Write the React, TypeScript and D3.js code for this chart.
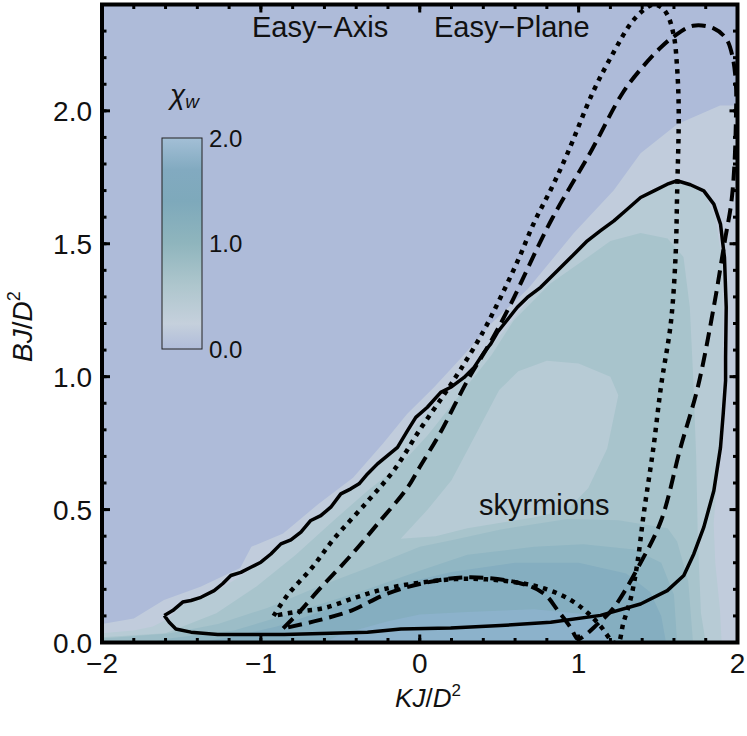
import React from 'react';
import * as d3 from 'd3';

// ---------- axes / labels ----------
const kTicks = [-2, -1, 0, 1, 2];
const kTickLabels = ['\u22122', '\u22121', '0', '1', '2'];
const bTicks = [0, 0.5, 1.0, 1.5, 2.0];
const bTickLabels = ['0.0', '0.5', '1.0', '1.5', '2.0'];
const cbTicks = [0, 1, 2];
const cbTickLabels = ['0.0', '1.0', '2.0'];
const annotations = ['Easy\u2212Axis', 'Easy\u2212Plane', 'skyrmions'];

// ---------- filled contour bands of chi_w (K, B) ----------
const bandColors = ['#c1ccdc', '#b7cbd5', '#a8c4cc', '#b7cbd5', '#9cbdc7', '#90b6c3', '#85aec0', '#8cb2cb'];
const band1 = [[-2, 0], [-2, 0.07], [-1.8, 0.09], [-1.61, 0.16], [-1.38, 0.21], [-1.13, 0.28], [-1.06, 0.36], [-0.86, 0.41], [-0.64, 0.52], [-0.42, 0.62], [-0.23, 0.75], [-0.08, 0.86], [0.09, 0.96], [0.26, 1.07], [0.45, 1.2], [0.68, 1.33], [0.97, 1.54], [1.22, 1.70], [1.39, 1.84], [1.62, 1.95], [1.89, 2.02], [2, 2.02], [2, 0]];
const band2 = [[-2, 0], [-2, 0.035], [-1.8, 0.045], [-1.68, 0.06], [-1.58, 0.09], [-1.5, 0.14], [-1.3, 0.185], [-1.1, 0.26], [-0.9, 0.35], [-0.7, 0.45], [-0.5, 0.55], [-0.3, 0.64], [-0.1, 0.77], [0.1, 0.9], [0.3, 1.0], [0.5, 1.15], [0.7, 1.3], [0.9, 1.42], [1.1, 1.53], [1.3, 1.62], [1.45, 1.69], [1.6, 1.73], [1.72, 1.715], [1.8, 1.68], [1.86, 1.6], [1.9, 1.45], [1.91, 1.2], [1.9, 0.9], [1.87, 0.6], [1.85, 0.45], [1.86, 0.3], [1.89, 0.12], [1.9, 0]];
const band3 = [[-2, 0], [-2, 0.02], [-1.6, 0.035], [-1.28, 0.11], [-1.03, 0.21], [-0.78, 0.33], [-0.54, 0.46], [-0.33, 0.57], [-0.12, 0.67], [0.05, 0.78], [0.25, 0.93], [0.45, 1.08], [0.59, 1.21], [0.82, 1.35], [1.06, 1.45], [1.2, 1.51], [1.39, 1.54], [1.56, 1.52], [1.66, 1.45], [1.70, 1.26], [1.72, 1.01], [1.74, 0.7], [1.75, 0.4], [1.77, 0.11], [1.8, 0]];
const band3Hole = [[-0.12, 0.39], [0.05, 0.5], [0.2, 0.61], [0.35, 0.78], [0.5, 0.95], [0.62, 1.02], [0.8, 1.06], [1.0, 1.05], [1.2, 1.0], [1.25, 0.93], [1.18, 0.73], [1.06, 0.58], [0.93, 0.5], [0.72, 0.47], [0.5, 0.45], [0.3, 0.43], [0.1, 0.4]];
const band4 = [[-2, 0], [-2, 0.015], [-1.58, 0.034], [-1.27, 0.07], [-0.96, 0.13], [-0.64, 0.21], [-0.33, 0.28], [0, 0.36], [0.2, 0.385], [0.51, 0.425], [0.93, 0.465], [1.25, 0.46], [1.56, 0.43], [1.62, 0.38], [1.69, 0.23], [1.72, 0]];
const band5 = [[-1.7, 0], [-1.58, 0.015], [-1.17, 0.045], [-0.75, 0.12], [-0.33, 0.2], [0, 0.27], [0.3, 0.33], [0.72, 0.36], [1.03, 0.37], [1.35, 0.35], [1.52, 0.3], [1.6, 0.18], [1.62, 0]];
const band6 = [[-1.4, 0], [-1.2, 0.02], [-0.9, 0.06], [-0.6, 0.12], [-0.3, 0.18], [-0.12, 0.22], [0.2, 0.265], [0.6, 0.3], [1.0, 0.3], [1.3, 0.26], [1.45, 0.19], [1.52, 0.1], [1.55, 0]];
const band7 = [[-0.6, 0], [-0.5, 0.03], [-0.2, 0.08], [0, 0.105], [0.3, 0.115], [0.72, 0.125], [1.06, 0.105], [1.18, 0.035], [1.2, 0]];

// ---------- phase boundaries (K, B) ----------
const solidCurve = [[-1.608, 0.1015], [-1.555, 0.120], [-1.492, 0.152], [-1.440, 0.158], [-1.377, 0.170], [-1.294, 0.195], [-1.241, 0.221], [-1.189, 0.252], [-1.126, 0.264], [-1.063, 0.283], [-1.0, 0.302], [-0.937, 0.333], [-0.874, 0.371], [-0.811, 0.386], [-0.748, 0.415], [-0.686, 0.459], [-0.623, 0.477], [-0.560, 0.509], [-0.497, 0.559], [-0.434, 0.578], [-0.382, 0.597], [-0.329, 0.634], [-0.266, 0.672], [-0.203, 0.703], [-0.140, 0.734], [-0.077, 0.797], [-0.025, 0.847], [0.048, 0.885], [0.132, 0.941], [0.195, 0.96], [0.279, 0.997], [0.342, 1.035], [0.404, 1.091], [0.447, 1.123], [0.489, 1.167], [0.614, 1.261], [0.677, 1.298], [0.761, 1.336], [0.866, 1.398], [0.950, 1.448], [1.055, 1.511], [1.138, 1.549], [1.222, 1.586], [1.306, 1.630], [1.390, 1.674], [1.474, 1.699], [1.558, 1.724], [1.620, 1.737], [1.704, 1.722], [1.788, 1.699], [1.851, 1.649], [1.893, 1.574], [1.918, 1.448], [1.929, 1.261], [1.925, 1.073], [1.925, 0.985], [1.910, 0.860], [1.893, 0.734], [1.851, 0.571], [1.788, 0.434], [1.725, 0.333], [1.662, 0.252], [1.558, 0.195], [1.390, 0.145], [1.138, 0.102], [0.824, 0.076], [0.509, 0.064], [0.195, 0.055], [-0.119, 0.051], [-0.329, 0.039], [-0.853, 0.030], [-1.272, 0.030], [-1.440, 0.039], [-1.535, 0.051], [-1.577, 0.076], [-1.608, 0.1015]];
const dottedCurve = [[-0.92, 0.10], [-0.83, 0.18], [-0.68, 0.28], [-0.54, 0.39], [-0.33, 0.53], [-0.16, 0.65], [0.0, 0.80], [0.15, 0.93], [0.26, 1.03], [0.40, 1.17], [0.51, 1.30], [0.62, 1.44], [0.72, 1.58], [0.83, 1.71], [0.93, 1.84], [1.09, 2.07], [1.22, 2.22], [1.33, 2.33], [1.41, 2.38], [1.47, 2.40], [1.52, 2.39], [1.56, 2.36], [1.60, 2.28], [1.62, 2.16], [1.63, 2.0], [1.62, 1.69], [1.61, 1.45], [1.58, 1.20], [1.52, 0.97], [1.47, 0.73], [1.41, 0.485], [1.37, 0.30], [1.33, 0.17], [1.28, 0.07], [1.25, 0.0], [1.22, 0.0], [1.14, 0.06], [1.06, 0.11], [0.95, 0.16], [0.8, 0.20], [0.62, 0.225], [0.3, 0.24], [0.0, 0.225], [-0.23, 0.20], [-0.40, 0.17], [-0.60, 0.13], [-0.78, 0.115], [-0.92, 0.10]];
const dashedCurve = [[-0.86, 0.053], [-0.75, 0.12], [-0.64, 0.195], [-0.43, 0.33], [-0.26, 0.45], [-0.08, 0.58], [0.0, 0.66], [0.13, 0.79], [0.30, 0.985], [0.45, 1.135], [0.57, 1.27], [0.82, 1.58], [1.08, 1.85], [1.28, 2.07], [1.41, 2.17], [1.52, 2.24], [1.60, 2.28], [1.72, 2.32], [1.85, 2.31], [1.93, 2.27], [1.97, 2.20], [1.99, 2.10], [1.99, 1.97], [1.98, 1.79], [1.96, 1.65], [1.92, 1.51], [1.85, 1.26], [1.75, 0.96], [1.64, 0.73], [1.52, 0.46], [1.39, 0.30], [1.22, 0.13], [1.12, 0.07], [1.01, 0.015], [0.99, 0.015], [0.95, 0.056], [0.87, 0.12], [0.78, 0.185], [0.62, 0.225], [0.30, 0.245], [0.0, 0.22], [-0.22, 0.18], [-0.43, 0.12], [-0.64, 0.083], [-0.86, 0.053]];

// ---------- colour bar ----------
const cbStops = [
  [0, '#a3bfd6'], [0.15, '#82aac0'], [0.3, '#7ea9bb'], [0.5, '#8fb5bd'],
  [0.7, '#aec6cd'], [0.88, '#c5d0dc'], [1, '#b0bcda'],
];

const W = 747, H = 736;
const L = 102, R = 737.5, T = 4.5, B = 642.5;
const FONT = '"Liberation Sans", Arial, Helvetica, sans-serif';

export default function App() {
  const x = d3.scaleLinear().domain([-2, 2]).range([L, R]);
  const y = d3.scaleLinear().domain([0, 2.4]).range([B, T]);
  const poly = d3.line<number[]>().x(d => x(d[0])).y(d => y(d[1]));
  const smooth = d3.line<number[]>().x(d => x(d[0])).y(d => y(d[1])).curve(d3.curveCatmullRom.alpha(0.5));
  const bands = [band1, band2, band3, band3Hole, band4, band5, band6, band7];

  const cbScale = d3.scaleLinear().domain([0, 2]).range([349, 138]);
  const kMinor = d3.range(-2, 2.001, 0.2);
  const bMinor = d3.range(0, 2.401, 0.1);

  const majorLen = 8, minorLen = 4.5;

  return (
    <svg width={W} height={H} style={{ position: 'absolute', left: 0, top: 0, background: '#fff' }} fontFamily={FONT}>
      <defs>
        <clipPath id="plot"><rect x={L} y={T} width={R - L} height={B - T} /></clipPath>
        <linearGradient id="cb" x1="0" y1="0" x2="0" y2="1">
          {cbStops.map((s, i) => <stop key={i} offset={s[0] as number} stopColor={s[1] as string} />)}
        </linearGradient>
      </defs>
      <g clipPath="url(#plot)">
        <rect x={L} y={T} width={R - L} height={B - T} fill="#aebbd9" />
        {bands.map((b, i) => <path key={i} d={poly(b)! + 'Z'} fill={bandColors[i]} />)}
        <path d={poly(solidCurve)!} fill="none" stroke="#000" strokeWidth={3.5} strokeLinejoin="round" />
        <path d={smooth(dashedCurve)!} fill="none" stroke="#000" strokeWidth={4} strokeDasharray="14 7" />
        <path d={smooth(dottedCurve)!} fill="none" stroke="#000" strokeWidth={4.5} strokeDasharray="4.5 5.5" />
      </g>

      {/* annotations */}
      <text x={252} y={37} fontSize={29} fill="#111">{annotations[0]}</text>
      <text x={434} y={37} fontSize={29} fill="#111">{annotations[1]}</text>
      <text x={479} y={515} fontSize={29} fill="#111">{annotations[2]}</text>

      {/* colour bar */}
      <rect x={162} y={cbScale(2)} width={40} height={cbScale(0) - cbScale(2)} fill="url(#cb)" stroke="#222" strokeWidth={1} />
      {cbTicks.map((t, i) => (
        <text key={i} x={209} y={cbScale(t) + 8.5} fontSize={24} fill="#111">{cbTickLabels[i]}</text>
      ))}
      <text x={170} y={104} fontSize={28} fontStyle="italic" fill="#111">χ<tspan fontSize={19} dy={4}>w</tspan></text>

      {/* frame */}
      <rect x={L} y={T} width={R - L} height={B - T} fill="none" stroke="#000" strokeWidth={4} />
      {/* ticks */}
      {kMinor.map((k, i) => (
        <g key={'km' + i}>
          <line x1={x(k)} x2={x(k)} y1={B} y2={B - minorLen} stroke="#000" strokeWidth={3} />
          <line x1={x(k)} x2={x(k)} y1={T} y2={T + minorLen} stroke="#000" strokeWidth={3} />
        </g>
      ))}
      {kTicks.map((k, i) => (
        <g key={'kM' + i}>
          <line x1={x(k)} x2={x(k)} y1={B} y2={B - majorLen} stroke="#000" strokeWidth={3} />
          <line x1={x(k)} x2={x(k)} y1={T} y2={T + majorLen} stroke="#000" strokeWidth={3} />
          <text x={x(k)} y={673} fontSize={28} textAnchor="middle" fill="#111">{kTickLabels[i]}</text>
        </g>
      ))}
      {bMinor.map((b, i) => (
        <g key={'bm' + i}>
          <line x1={L} x2={L + minorLen} y1={y(b)} y2={y(b)} stroke="#000" strokeWidth={3} />
          <line x1={R} x2={R - minorLen} y1={y(b)} y2={y(b)} stroke="#000" strokeWidth={3} />
        </g>
      ))}
      {bTicks.map((b, i) => (
        <g key={'bM' + i}>
          <line x1={L} x2={L + majorLen} y1={y(b)} y2={y(b)} stroke="#000" strokeWidth={3} />
          <line x1={R} x2={R - majorLen} y1={y(b)} y2={y(b)} stroke="#000" strokeWidth={3} />
          <text x={92} y={y(b) + 10} fontSize={28} textAnchor="end" fill="#111">{bTickLabels[i]}</text>
        </g>
      ))}

      {/* axis titles */}
      <text x={428} y={707} fontSize={26} textAnchor="middle" fill="#111"><tspan fontStyle="italic">KJ</tspan>/<tspan fontStyle="italic">D</tspan><tspan fontSize={17} dy={-11}>2</tspan></text>
      <text transform="translate(32,362) rotate(-90)" fontSize={28} fill="#111"><tspan fontStyle="italic">BJ</tspan>/<tspan fontStyle="italic">D</tspan><tspan fontSize={18} dy={-12}>2</tspan></text>
    </svg>
  );
}
